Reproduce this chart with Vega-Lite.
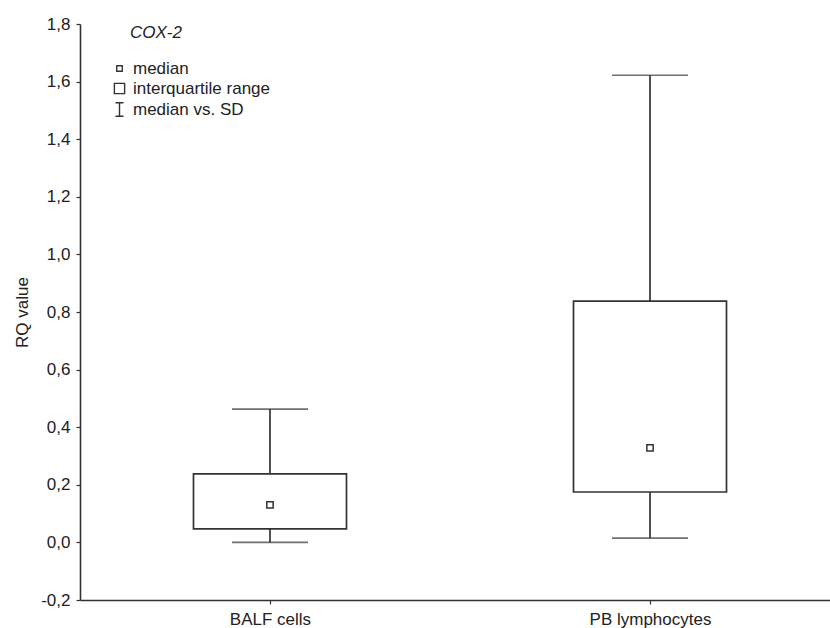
{
  "$schema": "https://vega.github.io/schema/vega-lite/v6.json",
  "autosize": "none",
  "width": 750,
  "height": 576,
  "padding": {"left": 80, "top": 24, "right": 0, "bottom": 28},
  "background": "white",
  "config": {
    "font": "Liberation Sans",
    "view": {"stroke": null},
    "axis": {"grid": false, "domainColor": "#333", "tickColor": "#333", "labelColor": "#222", "titleColor": "#222", "labelFontSize": 17, "titleFontSize": 17, "titleFontWeight": "normal", "domainWidth": 1.6, "tickWidth": 1.2, "tickSize": 4}
  },
  "data": {"values": [
    {"group": "BALF cells", "low": 0.0, "q1": 0.047, "median": 0.13, "q3": 0.238, "high": 0.463},
    {"group": "PB lymphocytes", "low": 0.015, "q1": 0.175, "median": 0.328, "q3": 0.838, "high": 1.622}
  ]},
  "encoding": {
    "x": {"field": "group", "type": "nominal", "sort": null, "scale": {"type": "point", "padding": 0.4868, "align": 0.5135},
      "axis": {"title": null, "labelAngle": 0, "labelPadding": 7}}
  },
  "layer": [
    {
      "mark": {"type": "rule", "color": "#333", "strokeWidth": 1.7},
      "encoding": {
        "y": {"field": "low", "type": "quantitative", "scale": {"domain": [-0.2, 1.8], "nice": false, "zero": false},
          "axis": {"title": "RQ value", "values": [-0.2, 0, 0.2, 0.4, 0.6, 0.8, 1.0, 1.2, 1.4, 1.6, 1.8],
            "labelExpr": "replace(replace(format(datum.value, '.1f'), '.', ','), '\u2212', '-')", "labelPadding": 6, "titlePadding": 9}},
        "y2": {"field": "high"}
      }
    },
    {
      "mark": {"type": "tick", "color": "#333", "thickness": 1.7, "size": 76, "orient": "horizontal"},
      "encoding": {"y": {"field": "low", "type": "quantitative"}}
    },
    {
      "mark": {"type": "tick", "color": "#333", "thickness": 1.7, "size": 76, "orient": "horizontal"},
      "encoding": {"y": {"field": "high", "type": "quantitative"}}
    },
    {
      "mark": {"type": "bar", "fill": "white", "stroke": "#333", "strokeWidth": 1.7, "size": 153},
      "encoding": {"y": {"field": "q1", "type": "quantitative"}, "y2": {"field": "q3"}}
    },
    {
      "mark": {"type": "point", "shape": "square", "filled": false, "color": "#333", "strokeWidth": 1.5, "size": 40, "opacity": 1},
      "encoding": {"y": {"field": "median", "type": "quantitative"}}
    },
    {
      "data": {"values": [
        {"item": "median"},
        {"item": "interquartile range"},
        {"item": "median vs. SD"}
      ]},
      "mark": {"type": "point", "filled": false, "color": "#333", "strokeWidth": 1.4, "opacity": 0},
      "encoding": {
        "x": {"value": 0},
        "shape": {"field": "item", "type": "ordinal",
          "scale": {"domain": ["median", "interquartile range", "median vs. SD"], "range": ["square", "square", "M-0.6,-1H0.6M0,-1V1M-0.6,1H0.6"]},
          "legend": {"title": "\u200b\u00a0\u00a0\u00a0\u00a0COX-2", "orient": "none", "legendX": 31, "legendY": 1, "titleFontStyle": "italic", "titleFontWeight": "normal", "titleFontSize": 17, "titleColor": "#222", "titlePadding": 18, "labelFontSize": 17, "labelColor": "#222", "labelOffset": 5, "rowPadding": 2, "symbolStrokeWidth": 1.4, "symbolStrokeColor": "#333", "symbolOpacity": 1}},
        "size": {"field": "item", "type": "ordinal",
          "scale": {"domain": ["median", "interquartile range", "median vs. SD"], "range": [30, 180, 150]}}
      }
    }
  ]
}
